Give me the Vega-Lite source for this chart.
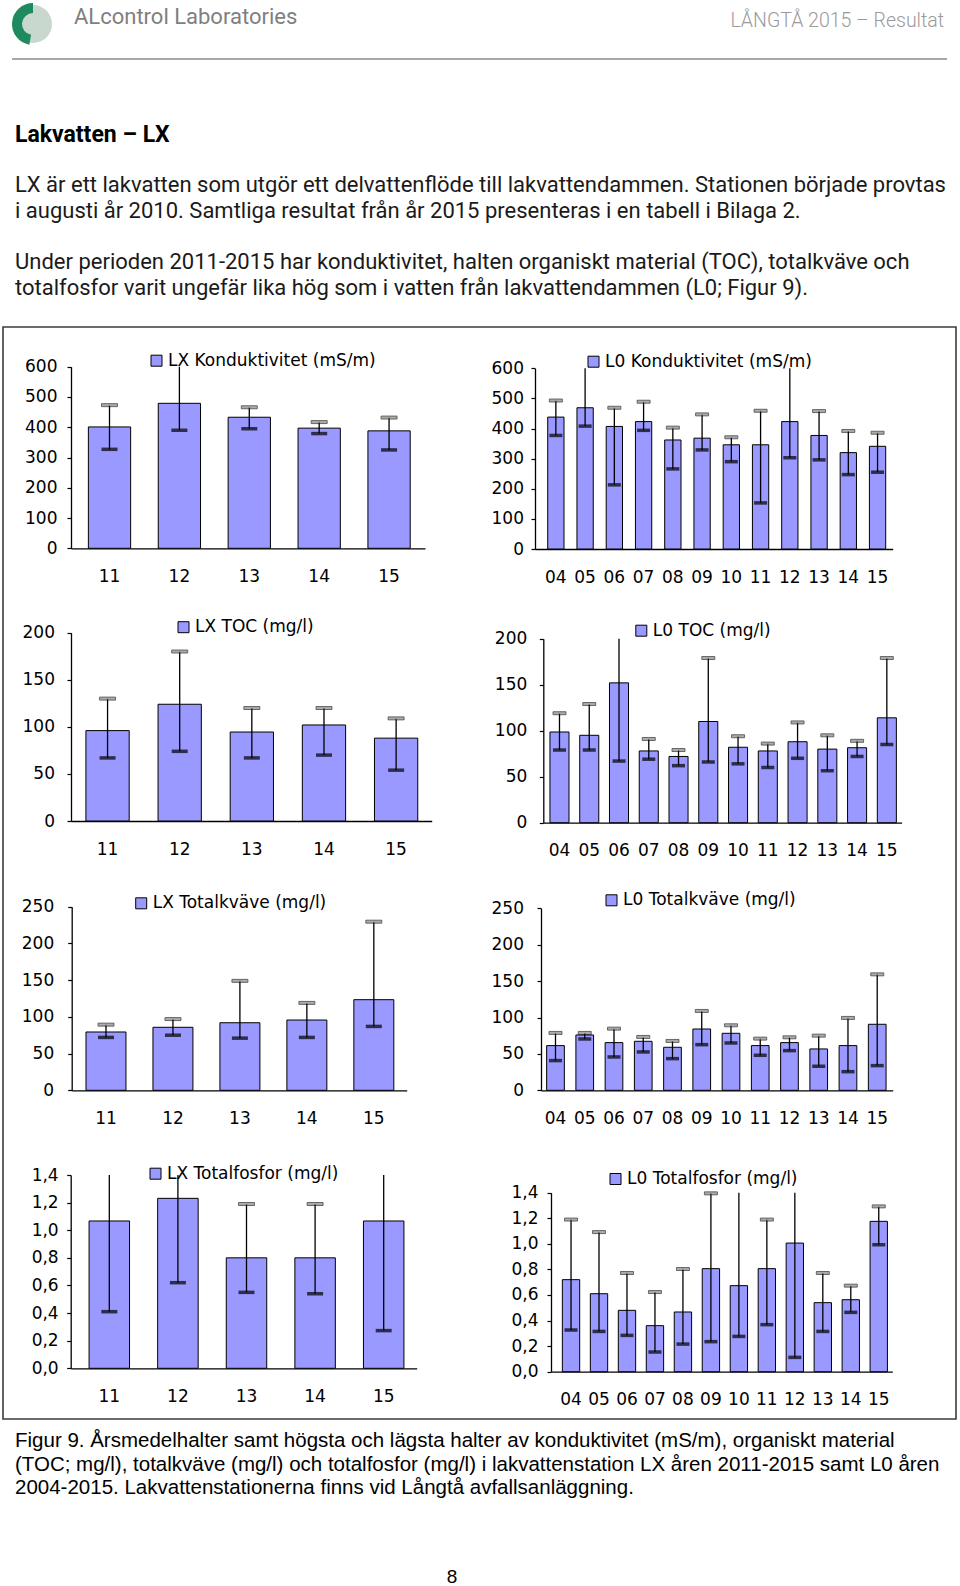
{
"$schema": "https://vega.github.io/schema/vega-lite/v6.json",
"padding": {"left": 2, "top": 0, "right": 0, "bottom": 0},
"background": "white",
"spacing": 0,
"bounds": "flush",
"resolve": {"scale": {"color": "independent", "theta": "independent"}, "legend": {"color": "independent"}},
"config": {
  "view": {"stroke": null},
  "axis": {"grid": false, "domainColor": "#000", "domainWidth": 1.3, "tickColor": "#000", "tickWidth": 1.2, "labelColor": "#000", "labelFont": "DejaVu Sans", "labelFontSize": 17},
  "legend": {"symbolType": "square", "symbolSize": 121, "symbolStrokeColor": "#000", "symbolStrokeWidth": 1, "labelFont": "DejaVu Sans", "labelFontSize": 17, "labelColor": "#000", "labelOffset": 3, "labelLimit": 500, "padding": 0}
},
"datasets": {
  "empty": [],
  "logoBg": [{"k": "bg", "v": 360}],
  "logoRing": [{"k": "gap", "v": 190}, {"k": "green", "v": 170}],
  "c1": [{"yr":"11","mean":401,"min":327,"max":473},{"yr":"12","mean":479,"min":390,"max":650},{"yr":"13","mean":433,"min":395,"max":466},{"yr":"14","mean":397,"min":379,"max":417},{"yr":"15","mean":388,"min":325,"max":432}],
  "c2": [{"yr":"04","mean":438,"min":377,"max":493},{"yr":"05","mean":469,"min":408,"max":650},{"yr":"06","mean":407,"min":213,"max":469},{"yr":"07","mean":423,"min":394,"max":489},{"yr":"08","mean":362,"min":266,"max":403},{"yr":"09","mean":368,"min":329,"max":447},{"yr":"10","mean":346,"min":290,"max":371},{"yr":"11","mean":346,"min":153,"max":459},{"yr":"12","mean":423,"min":303,"max":650},{"yr":"13","mean":377,"min":296,"max":458},{"yr":"14","mean":320,"min":247,"max":392},{"yr":"15","mean":341,"min":255,"max":386}],
  "c3": [{"yr":"11","mean":96,"min":67,"max":130},{"yr":"12","mean":124,"min":74,"max":180},{"yr":"13","mean":94.5,"min":67,"max":120},{"yr":"14","mean":102,"min":70,"max":120},{"yr":"15","mean":88,"min":54,"max":109}],
  "c4": [{"yr":"04","mean":98.6,"min":79,"max":119},{"yr":"05","mean":95,"min":79,"max":129},{"yr":"06","mean":152,"min":67,"max":230},{"yr":"07","mean":78,"min":69,"max":91},{"yr":"08","mean":72,"min":62,"max":79},{"yr":"09","mean":110,"min":66,"max":179},{"yr":"10","mean":82,"min":64,"max":94},{"yr":"11","mean":78,"min":60,"max":86},{"yr":"12","mean":88,"min":70,"max":109},{"yr":"13","mean":80,"min":56.5,"max":95},{"yr":"14","mean":81.5,"min":72,"max":89},{"yr":"15","mean":114,"min":85,"max":179}],
  "c5": [{"yr":"11","mean":79.4,"min":72,"max":89.4},{"yr":"12","mean":85.8,"min":75,"max":97},{"yr":"13","mean":92,"min":71,"max":149},{"yr":"14","mean":95.7,"min":72,"max":119},{"yr":"15","mean":123.4,"min":87,"max":229.6}],
  "c6": [{"yr":"04","mean":61.4,"min":40.8,"max":78.8},{"yr":"05","mean":76,"min":70.5,"max":78.8},{"yr":"06","mean":65.5,"min":45.8,"max":84.7},{"yr":"07","mean":67.3,"min":52.7,"max":73.3},{"yr":"08","mean":59.1,"min":43.5,"max":67.8},{"yr":"09","mean":84.2,"min":62.7,"max":109},{"yr":"10","mean":78.3,"min":65,"max":89.3},{"yr":"11","mean":61.4,"min":48.1,"max":71},{"yr":"12","mean":65.5,"min":54.5,"max":72.8},{"yr":"13","mean":56.8,"min":33,"max":75.1},{"yr":"14","mean":61.4,"min":25.6,"max":99.4},{"yr":"15","mean":90.7,"min":33.9,"max":159.3}],
  "c7": [{"yr":"11","mean":1.067,"min":0.41,"max":1.6},{"yr":"12","mean":1.231,"min":0.62,"max":1.6},{"yr":"13","mean":0.8,"min":0.55,"max":1.19},{"yr":"14","mean":0.8,"min":0.54,"max":1.19},{"yr":"15","mean":1.067,"min":0.273,"max":1.6}],
  "c8": [{"yr":"04","mean":0.72,"min":0.326,"max":1.19},{"yr":"05","mean":0.61,"min":0.315,"max":1.092},{"yr":"06","mean":0.48,"min":0.284,"max":0.772},{"yr":"07","mean":0.36,"min":0.154,"max":0.623},{"yr":"08","mean":0.467,"min":0.216,"max":0.803},{"yr":"09","mean":0.806,"min":0.235,"max":1.395},{"yr":"10","mean":0.673,"min":0.276,"max":1.6},{"yr":"11","mean":0.806,"min":0.368,"max":1.19},{"yr":"12","mean":1.006,"min":0.112,"max":1.6},{"yr":"13","mean":0.54,"min":0.315,"max":0.772},{"yr":"14","mean":0.563,"min":0.464,"max":0.673},{"yr":"15","mean":1.176,"min":0.993,"max":1.293}]
},
"vconcat": [
  {"width":60,"height":48,"layer":[
    {"data":{"name":"logoBg"},"mark":{"type":"arc","outerRadius":19},"encoding":{"theta":{"field":"v","type":"quantitative"},"color":{"field":"k","type":"nominal","scale":{"domain":["bg","gap","green"],"range":["#c9d8cf","rgba(255,255,255,0)","#1e8a5f"]},"legend":null}}},
    {"data":{"name":"logoRing"},"mark":{"type":"arc","innerRadius":11,"outerRadius":21},"encoding":{"theta":{"field":"v","type":"quantitative"},"color":{"field":"k","type":"nominal","legend":null}}}
  ]},
  {"width":0.01,"height":11,"data":{"name":"empty"},"mark":"point",
   "title":{"text":"ALcontrol Laboratories","anchor":"start","orient":"top","dx":71,"offset":19,"font":"Roboto","fontSize":22,"fontWeight":"normal","color":"#7f7f7f"}},
  {"hconcat":[
    {"width":9,"height":0.01,"data":{"name":"empty"},"mark":"point"},
    {"width":933,"height":0.01,"data":{"name":"empty"},"mark":"point","view":{"stroke":"#a8a8a8","strokeWidth":2},
     "title":{"text":"LÅNGTÅ 2015 – Resultat","anchor":"end","orient":"top","dx":-2,"offset":28,"font":"Roboto","fontSize":19.5,"fontWeight":300,"color":"#9a9a9a"}}
  ],"spacing":0},
  {"width":0.01,"height":267,"data":{"name":"empty"},"mark":"point"},
  {"width":0.01,"height":1,"data":{"name":"empty"},"mark":"point",
   "title":{"text":["Under perioden 2011-2015 har konduktivitet, halten organiskt material (TOC), totalkväve och","totalfosfor varit ungefär lika hög som i vatten från lakvattendammen (L0; Figur 9)."],
    "anchor":"start","orient":"top","dx":12,"offset":26,"font":"Roboto","fontSize":22,"fontWeight":"normal","color":"#1a1a1a","lineHeight":26}},
  {"width":953,"height":1092,"view":{"stroke":"#3c3c3c","strokeWidth":1.6},
   "title":{"text":"Lakvatten – LX","subtitle":["LX är ett lakvatten som utgör ett delvattenflöde till lakvattendammen. Stationen började provtas","i augusti år 2010. Samtliga resultat från år 2015 presenteras i en tabell i Bilaga 2."],
    "anchor":"start","orient":"top","dx":12,"offset":105,"font":"Roboto","fontSize":23,"fontWeight":"bold","color":"#000",
    "subtitleFont":"Roboto","subtitleFontSize":22,"subtitleColor":"#1a1a1a","subtitleLineHeight":26,"subtitlePadding":28},
   "resolve":{"scale":{"x":"independent","y":"independent","color":"independent"},"axis":{"x":"independent","y":"independent"},"legend":{"color":"independent"}},
   "layer":[
    {"data":{"name":"c1"},
     "encoding":{"x":{"field":"yr","type":"ordinal","scale":{"range":[68,422],"paddingInner":0.395,"paddingOuter":0.23,"align":0.54},"axis":{"orient":"bottom","offset":-870.7,"title":null,"ticks":false,"tickSize":0,"labelPadding":20,"labelAngle":0}}},
     "layer":[
      {"mark":{"type":"bar","stroke":"#000","strokeWidth":1},"encoding":{"y":{"field":"mean","type":"quantitative","title":null,"scale":{"domain":[0,600],"range":[221.3,39.7],"clamp":true,"nice":false},"axis":{"orient":"left","offset":-68,"title":null,"values":[0,100,200,300,400,500,600],"tickSize":4,"labelPadding":10}},"color":{"datum":"LX Konduktivitet (mS/m)","scale":{"range":["#9999ff"]},"legend":{"title":null,"orient":"none","legendX":145,"legendY":25.2}}}},
      {"mark":{"type":"rule","color":"#000","strokeWidth":1.3},"encoding":{"y":{"field":"min","type":"quantitative","title":null},"y2":{"field":"max"}}},
      {"transform":[{"filter":"datum.max <= 600"}],"mark":{"type":"tick","color":"#888","stroke":"#000","strokeWidth":0.8,"thickness":3,"size":16},"encoding":{"y":{"field":"max","type":"quantitative","title":null}}},
      {"mark":{"type":"tick","color":"#000","thickness":3.5,"size":16},"encoding":{"y":{"field":"min","type":"quantitative","title":null}}}
     ]},
    {"data":{"name":"c2"},
     "encoding":{"x":{"field":"yr","type":"ordinal","scale":{"range":[532,889.7],"paddingInner":0.443,"paddingOuter":0.337,"align":0.645},"axis":{"orient":"bottom","offset":-870,"title":null,"ticks":false,"tickSize":0,"labelPadding":20,"labelAngle":0}}},
     "layer":[
      {"mark":{"type":"bar","stroke":"#000","strokeWidth":1},"encoding":{"y":{"field":"mean","type":"quantitative","title":null,"scale":{"domain":[0,600],"range":[222,41.3],"clamp":true,"nice":false},"axis":{"orient":"left","offset":-532,"title":null,"values":[0,100,200,300,400,500,600],"tickSize":4,"labelPadding":7.5}},"color":{"datum":"L0 Konduktivitet (mS/m)","scale":{"range":["#9999ff"]},"legend":{"title":null,"orient":"none","legendX":582,"legendY":26.2}}}},
      {"mark":{"type":"rule","color":"#000","strokeWidth":1.3},"encoding":{"y":{"field":"min","type":"quantitative","title":null},"y2":{"field":"max"}}},
      {"transform":[{"filter":"datum.max <= 600"}],"mark":{"type":"tick","color":"#888","stroke":"#000","strokeWidth":0.8,"thickness":3,"size":13},"encoding":{"y":{"field":"max","type":"quantitative","title":null}}},
      {"mark":{"type":"tick","color":"#000","thickness":3.5,"size":13},"encoding":{"y":{"field":"min","type":"quantitative","title":null}}}
     ]},
    {"data":{"name":"c3"},
     "encoding":{"x":{"field":"yr","type":"ordinal","scale":{"range":[68,428.7],"paddingInner":0.4,"paddingOuter":0.2,"align":0.517},"axis":{"orient":"bottom","offset":-598,"title":null,"ticks":false,"tickSize":0,"labelPadding":20,"labelAngle":0}}},
     "layer":[
      {"mark":{"type":"bar","stroke":"#000","strokeWidth":1},"encoding":{"y":{"field":"mean","type":"quantitative","title":null,"scale":{"domain":[0,200],"range":[494,305.7],"clamp":true,"nice":false},"axis":{"orient":"left","offset":-68,"title":null,"values":[0,50,100,150,200],"tickSize":4,"labelPadding":12.5}},"color":{"datum":"LX TOC  (mg/l)","scale":{"range":["#9999ff"]},"legend":{"title":null,"orient":"none","legendX":172,"legendY":291.7}}}},
      {"mark":{"type":"rule","color":"#000","strokeWidth":1.3},"encoding":{"y":{"field":"min","type":"quantitative","title":null},"y2":{"field":"max"}}},
      {"transform":[{"filter":"datum.max <= 200"}],"mark":{"type":"tick","color":"#888","stroke":"#000","strokeWidth":0.8,"thickness":3,"size":16},"encoding":{"y":{"field":"max","type":"quantitative","title":null}}},
      {"mark":{"type":"tick","color":"#000","thickness":3.5,"size":16},"encoding":{"y":{"field":"min","type":"quantitative","title":null}}}
     ]},
    {"data":{"name":"c4"},
     "encoding":{"x":{"field":"yr","type":"ordinal","scale":{"range":[540.3,898.6],"paddingInner":0.36,"paddingOuter":0.2,"align":0.56},"axis":{"orient":"bottom","offset":-596.3,"title":null,"ticks":false,"tickSize":0,"labelPadding":20,"labelAngle":0}}},
     "layer":[
      {"mark":{"type":"bar","stroke":"#000","strokeWidth":1},"encoding":{"y":{"field":"mean","type":"quantitative","title":null,"scale":{"domain":[0,200],"range":[495.7,311.7],"clamp":true,"nice":false},"axis":{"orient":"left","offset":-540.3,"title":null,"values":[0,50,100,150,200],"tickSize":4,"labelPadding":12.5}},"color":{"datum":"L0 TOC (mg/l)","scale":{"range":["#9999ff"]},"legend":{"title":null,"orient":"none","legendX":629.8,"legendY":295.2}}}},
      {"mark":{"type":"rule","color":"#000","strokeWidth":1.3},"encoding":{"y":{"field":"min","type":"quantitative","title":null},"y2":{"field":"max"}}},
      {"transform":[{"filter":"datum.max <= 200"}],"mark":{"type":"tick","color":"#888","stroke":"#000","strokeWidth":0.8,"thickness":3,"size":13},"encoding":{"y":{"field":"max","type":"quantitative","title":null}}},
      {"mark":{"type":"tick","color":"#000","thickness":3.5,"size":13},"encoding":{"y":{"field":"min","type":"quantitative","title":null}}}
     ]},
    {"data":{"name":"c5"},
     "encoding":{"x":{"field":"yr","type":"ordinal","scale":{"range":[68.7,403.7],"paddingInner":0.403,"paddingOuter":0.203,"align":0.526},"axis":{"orient":"bottom","offset":-328.7,"title":null,"ticks":false,"tickSize":0,"labelPadding":20,"labelAngle":0}}},
     "layer":[
      {"mark":{"type":"bar","stroke":"#000","strokeWidth":1},"encoding":{"y":{"field":"mean","type":"quantitative","title":null,"scale":{"domain":[0,250],"range":[763.3,579.7],"clamp":true,"nice":false},"axis":{"orient":"left","offset":-68.7,"title":null,"values":[0,50,100,150,200,250],"tickSize":4,"labelPadding":14}},"color":{"datum":"LX Totalkväve (mg/l)","scale":{"range":["#9999ff"]},"legend":{"title":null,"orient":"none","legendX":129.7,"legendY":567.8}}}},
      {"mark":{"type":"rule","color":"#000","strokeWidth":1.3},"encoding":{"y":{"field":"min","type":"quantitative","title":null},"y2":{"field":"max"}}},
      {"transform":[{"filter":"datum.max <= 250"}],"mark":{"type":"tick","color":"#888","stroke":"#000","strokeWidth":0.8,"thickness":3,"size":16},"encoding":{"y":{"field":"max","type":"quantitative","title":null}}},
      {"mark":{"type":"tick","color":"#000","thickness":3.5,"size":16},"encoding":{"y":{"field":"min","type":"quantitative","title":null}}}
     ]},
    {"data":{"name":"c6"},
     "encoding":{"x":{"field":"yr","type":"ordinal","scale":{"range":[538,889.7],"paddingInner":0.395,"paddingOuter":0.21,"align":0.46},"axis":{"orient":"bottom","offset":-328.7,"title":null,"ticks":false,"tickSize":0,"labelPadding":20,"labelAngle":0}}},
     "layer":[
      {"mark":{"type":"bar","stroke":"#000","strokeWidth":1},"encoding":{"y":{"field":"mean","type":"quantitative","title":null,"scale":{"domain":[0,250],"range":[763.3,581.3],"clamp":true,"nice":false},"axis":{"orient":"left","offset":-538,"title":null,"values":[0,50,100,150,200,250],"tickSize":4,"labelPadding":13.5}},"color":{"datum":"L0 Totalkväve (mg/l)","scale":{"range":["#9999ff"]},"legend":{"title":null,"orient":"none","legendX":600,"legendY":564.8}}}},
      {"mark":{"type":"rule","color":"#000","strokeWidth":1.3},"encoding":{"y":{"field":"min","type":"quantitative","title":null},"y2":{"field":"max"}}},
      {"transform":[{"filter":"datum.max <= 250"}],"mark":{"type":"tick","color":"#888","stroke":"#000","strokeWidth":0.8,"thickness":3,"size":13},"encoding":{"y":{"field":"max","type":"quantitative","title":null}}},
      {"mark":{"type":"tick","color":"#000","thickness":3.5,"size":13},"encoding":{"y":{"field":"min","type":"quantitative","title":null}}}
     ]},
    {"data":{"name":"c7"},
     "encoding":{"x":{"field":"yr","type":"ordinal","scale":{"range":[67.7,413.7],"paddingInner":0.41,"paddingOuter":0.227,"align":0.59},"axis":{"orient":"bottom","offset":-50.7,"title":null,"ticks":false,"tickSize":0,"labelPadding":20,"labelAngle":0}}},
     "layer":[
      {"mark":{"type":"bar","stroke":"#000","strokeWidth":1},"encoding":{"y":{"field":"mean","type":"quantitative","title":null,"scale":{"domain":[0,1.4],"range":[1041.3,848],"clamp":true,"nice":false},"axis":{"orient":"left","offset":-67.7,"title":null,"values":[0,0.2,0.4,0.6,0.8,1.0,1.2,1.4],"labelExpr":"replace(format(datum.value, '.1f'), '.', ',')","tickSize":4,"labelPadding":8.5}},"color":{"datum":"LX Totalfosfor (mg/l)","scale":{"range":["#9999ff"]},"legend":{"title":null,"orient":"none","legendX":144,"legendY":838.2}}}},
      {"mark":{"type":"rule","color":"#000","strokeWidth":1.3},"encoding":{"y":{"field":"min","type":"quantitative","title":null},"y2":{"field":"max"}}},
      {"transform":[{"filter":"datum.max <= 1.4"}],"mark":{"type":"tick","color":"#888","stroke":"#000","strokeWidth":0.8,"thickness":3,"size":16},"encoding":{"y":{"field":"max","type":"quantitative","title":null}}},
      {"mark":{"type":"tick","color":"#000","thickness":3.5,"size":16},"encoding":{"y":{"field":"min","type":"quantitative","title":null}}}
     ]},
    {"data":{"name":"c8"},
     "encoding":{"x":{"field":"yr","type":"ordinal","scale":{"range":[548,889.3],"paddingInner":0.38,"paddingOuter":0.29,"align":0.7},"axis":{"orient":"bottom","offset":-47.3,"title":null,"ticks":false,"tickSize":0,"labelPadding":20,"labelAngle":0}}},
     "layer":[
      {"mark":{"type":"bar","stroke":"#000","strokeWidth":1},"encoding":{"y":{"field":"mean","type":"quantitative","title":null,"scale":{"domain":[0,1.4],"range":[1044.7,865.7],"clamp":true,"nice":false},"axis":{"orient":"left","offset":-548,"title":null,"values":[0,0.2,0.4,0.6,0.8,1.0,1.2,1.4],"labelExpr":"replace(format(datum.value, '.1f'), '.', ',')","tickSize":4,"labelPadding":9}},"color":{"datum":"L0 Totalfosfor (mg/l)","scale":{"range":["#9999ff"]},"legend":{"title":null,"orient":"none","legendX":604,"legendY":843.5}}}},
      {"mark":{"type":"rule","color":"#000","strokeWidth":1.3},"encoding":{"y":{"field":"min","type":"quantitative","title":null},"y2":{"field":"max"}}},
      {"transform":[{"filter":"datum.max <= 1.4"}],"mark":{"type":"tick","color":"#888","stroke":"#000","strokeWidth":0.8,"thickness":3,"size":13},"encoding":{"y":{"field":"max","type":"quantitative","title":null}}},
      {"mark":{"type":"tick","color":"#000","thickness":3.5,"size":13},"encoding":{"y":{"field":"min","type":"quantitative","title":null}}}
     ]}
   ]},
  {"width":0.01,"height":1,"data":{"name":"empty"},"mark":"point",
   "title":{"text":["Figur 9. Årsmedelhalter samt högsta och lägsta halter av konduktivitet (mS/m), organiskt material","(TOC; mg/l), totalkväve (mg/l) och totalfosfor (mg/l) i lakvattenstation LX åren 2011-2015 samt L0 åren","2004-2015. Lakvattenstationerna finns vid Långtå avfallsanläggning."],
    "anchor":"start","orient":"bottom","dx":12,"offset":11.3,"font":"Liberation Sans","fontSize":20.5,"fontWeight":"normal","color":"#000","lineHeight":23.5}},
  {"width":898,"height":1,"data":{"name":"empty"},"mark":"point",
   "title":{"text":"8","anchor":"middle","orient":"bottom","offset":147,"font":"Liberation Sans","fontSize":19,"fontWeight":"normal","color":"#000"}}
]
}
